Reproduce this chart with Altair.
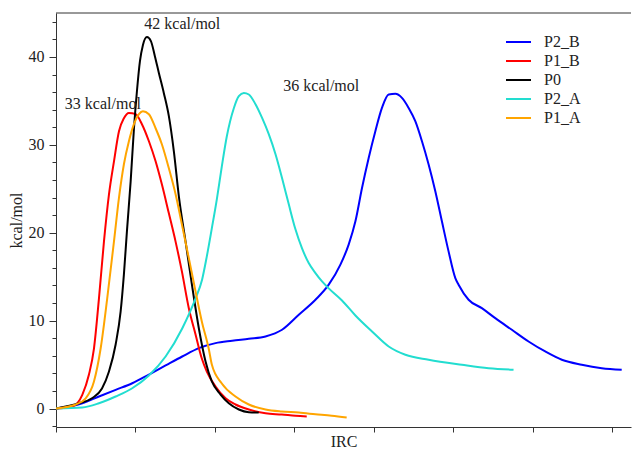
import altair as alt
import pandas as pd

# ---- data (x in IRC units, y in kcal/mol) ----
series_names = ["P2_B", "P1_B", "P0", "P2_A", "P1_A"]
series_colors = ["#0000ff", "#ff0000", "#000000", "#22ddd0", "#ffa500"]

p1b_x = [0, 0.205, 0.331, 0.415, 0.478, 0.541, 0.604, 0.667, 0.730, 0.793, 0.855, 0.918, 1.003, 1.082, 1.170,
         1.254, 1.333, 1.421, 1.505, 1.585, 1.673, 1.757, 1.836, 1.899, 2.009, 2.135, 2.260, 2.428, 2.638,
         2.843, 3.015, 3.157]
p1b_y = [0, 0.23, 1.56, 3.87, 6.83, 12.53, 19.02, 24.37, 28.13, 31.55, 33.03, 33.63, 33.49, 32.35, 30.41,
         28.13, 25.51, 22.21, 19.02, 15.60, 11.39, 8.43, 5.69, 4.21, 2.51, 1.17, 0.46, -0.11, -0.54,
         -0.68, -0.83, -0.91]

p0_x = [0, 0.289, 0.453, 0.579, 0.667, 0.751, 0.814, 0.855, 0.893, 0.940, 0.981, 1.019, 1.057, 1.094, 1.145,
        1.195, 1.245, 1.296, 1.358, 1.421, 1.484, 1.547, 1.631, 1.711, 1.799, 1.883, 1.962, 2.072, 2.176,
        2.302, 2.428, 2.553]
p0_y = [0, 0.60, 1.17, 2.28, 4.21, 7.29, 11.05, 15.26, 20.16, 25.85, 31.78, 36.10, 39.52, 41.34, 42.26,
        41.80, 40.09, 38.15, 35.88, 33.26, 29.27, 24.15, 19.02, 14.12, 9.11, 5.35, 3.08, 1.59, 0.60,
        -0.11, -0.42, -0.46]

p1a_x = [0, 0.248, 0.374, 0.478, 0.562, 0.645, 0.730, 0.792, 0.855, 0.918, 0.981, 1.044, 1.094, 1.170, 1.254,
         1.333, 1.421, 1.506, 1.585, 1.673, 1.757, 1.836, 1.925, 1.962, 2.088, 2.260, 2.428, 2.638, 2.843,
         3.057, 3.267, 3.472, 3.660]
p1a_y = [0, 0.46, 1.17, 3.08, 6.83, 12.53, 19.02, 23.92, 27.79, 30.41, 32.35, 33.49, 33.83, 33.49, 31.89,
         30.07, 27.33, 24.37, 20.96, 17.08, 13.33, 9.91, 6.72, 5.01, 2.85, 1.37, 0.46, -0.11, -0.34,
         -0.46, -0.65, -0.83, -1.03]

p2a_x = [0, 0.331, 0.541, 0.751, 0.960, 1.170, 1.380, 1.589, 1.757, 1.840, 1.899, 1.962, 2.025, 2.088, 2.151,
         2.239, 2.302, 2.365, 2.428, 2.512, 2.595, 2.679, 2.764, 2.846, 2.931, 3.015, 3.098, 3.182, 3.267,
         3.350, 3.434, 3.601, 3.770, 3.979, 4.189, 4.399, 4.692, 5.111, 5.447, 5.761]
p2a_y = [0, 0.11, 0.60, 1.37, 2.31, 3.76, 5.92, 9.11, 12.53, 14.69, 17.31, 20.50, 23.80, 27.56, 30.98,
         34.17, 35.54, 35.91, 35.73, 34.62, 33.06, 31.21, 28.93, 26.23, 23.23, 20.39, 18.22, 16.55, 15.41,
         14.46, 13.67, 12.30, 10.59, 8.77, 7.06, 6.12, 5.55, 4.98, 4.59, 4.41]

p2b_x = [0, 0.331, 0.541, 0.751, 0.960, 1.170, 1.380, 1.589, 1.799, 2.009, 2.218, 2.428, 2.638, 2.846, 3.057,
         3.267, 3.434, 3.581, 3.686, 3.770, 3.853, 3.937, 4.021, 4.104, 4.189, 4.273, 4.356, 4.440, 4.524,
         4.608, 4.692, 4.776, 4.859, 4.943, 5.028, 5.069, 5.195, 5.362, 5.531, 5.740, 5.950, 6.160, 6.369,
         6.620, 6.872, 7.123]
p2b_y = [0, 0.60, 1.37, 2.13, 2.88, 3.87, 4.90, 5.92, 6.87, 7.44, 7.71, 7.94, 8.20, 8.96, 10.67,
         12.38, 14.09, 16.37, 18.68, 21.30, 25.09, 28.51, 31.55, 34.20, 35.73, 35.80, 35.34, 34.20, 32.69,
         30.41, 27.76, 24.72, 21.30, 17.88, 14.84, 14.09, 12.38, 11.42, 10.28, 8.96, 7.63, 6.49, 5.55,
         4.98, 4.59, 4.41]

ann_text = ["42 kcal/mol", "33 kcal/mol", "36 kcal/mol"]
ann_x = [1.59, 0.59, 3.34]
ann_y = [43.7, 34.6, 36.7]

x_ticks = [0, 1, 2, 3, 4, 5, 6, 7]
y_ticks = [-2, 0, 2, 4, 6, 8, 10, 12, 14, 16, 18, 20, 22, 24, 26, 28, 30, 32, 34, 36, 38, 40, 42, 44]
top_value = [45]

# ---- build tables ----
rows = []
for name, xs, ys in [("P2_B", p2b_x, p2b_y), ("P1_B", p1b_x, p1b_y), ("P0", p0_x, p0_y),
                     ("P2_A", p2a_x, p2a_y), ("P1_A", p1a_x, p1a_y)]:
    for i, (xv, yv) in enumerate(zip(xs, ys)):
        rows.append({"series": name, "irc": xv, "e": yv, "order": i})
df = pd.DataFrame(rows)
ann = pd.DataFrame({"text": ann_text, "irc": ann_x, "e": ann_y})
top = pd.DataFrame({"e": top_value})

FONT = "Liberation Serif"
xscale = alt.Scale(domain=[0, 7.24], nice=False, zero=False)
yscale = alt.Scale(domain=[-2.1, 45], nice=False, zero=False)

major = "(datum.value == 0 || datum.value == 10 || datum.value == 20 || datum.value == 30 || datum.value == 40)"
x_axis = alt.Axis(values=x_ticks, labels=False, tickSize=5, grid=False, titlePadding=1)
y_axis = alt.Axis(values=y_ticks,
                  labelExpr=major + " ? datum.label : ''",
                  labelOverlap=False, labelBound=False, labelFlush=False,
                  tickSize={"condition": {"test": major, "value": 7}, "value": 4},
                  labelPadding=5, grid=False, titlePadding=4)

X = alt.X("irc:Q", scale=xscale, title="IRC", axis=x_axis)
Y = alt.Y("e:Q", scale=yscale, title="kcal/mol", axis=y_axis)

lines = alt.Chart(df).mark_line(strokeWidth=2, clip=True, interpolate="monotone").encode(
    x=X,
    y=Y,
    color=alt.Color("series:N", scale=alt.Scale(domain=series_names, range=series_colors),
                    legend=alt.Legend(title=None, orient="none", legendX=449, legendY=21,
                                      symbolType="stroke", symbolSize=625, symbolStrokeWidth=2,
                                      clipHeight=16,
                                      labelFont=FONT, labelFontSize=16, labelOffset=12,
                                      rowPadding=3, padding=0, labelColor="#222")),
    detail="series:N",
    order="order:Q",
)

texts = alt.Chart(ann).mark_text(font=FONT, fontSize=16, color="#222").encode(
    x=X, y=Y, text="text:N",
)

top_rule = alt.Chart(top).mark_rule(color="#333", strokeWidth=1).encode(y=Y)

chart = alt.layer(lines, texts, top_rule).properties(
    width=575, height=414,
    padding={"left": 0, "top": 4, "right": 0, "bottom": 0},
).configure_view(stroke=None).configure_axis(
    labelFont=FONT, labelFontSize=16, titleFont=FONT, titleFontSize=16, titleFontWeight="normal",
    domainColor="#333", tickColor="#333", labelColor="#222", titleColor="#222",
)

chart.save("out.html", embed_options={"renderer": "svg", "actions": False})
